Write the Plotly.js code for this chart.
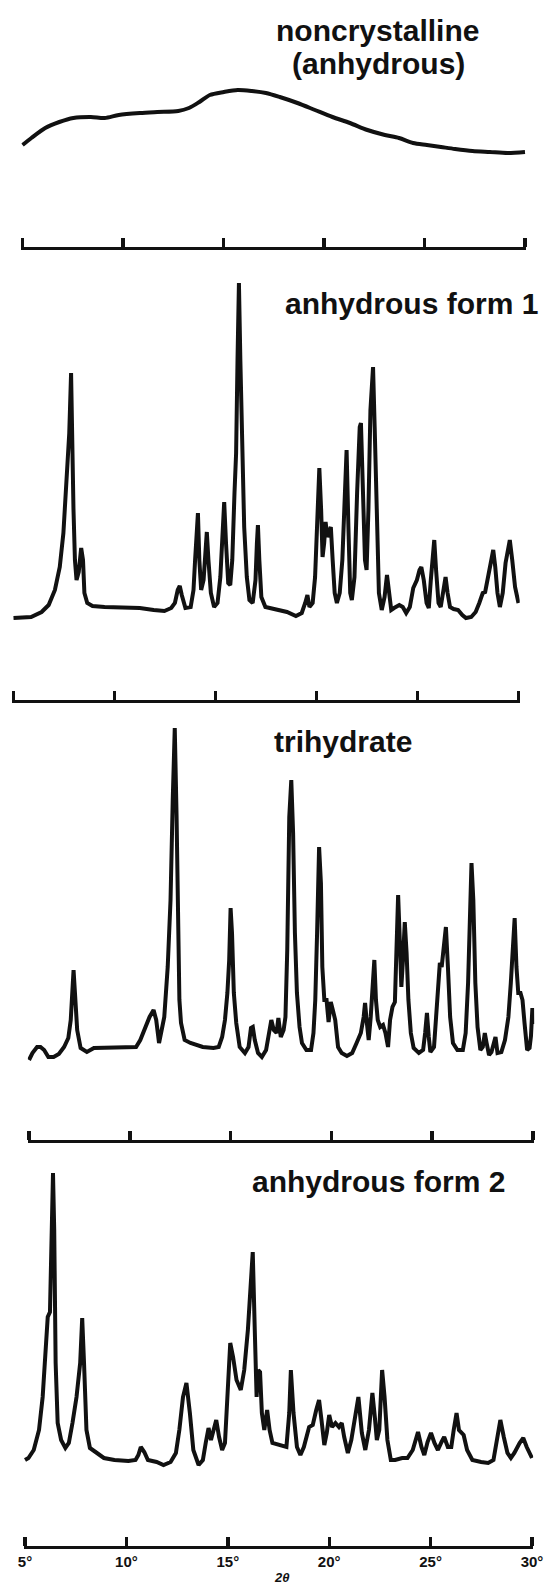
<!DOCTYPE html>
<html>
<head>
<meta charset="utf-8">
<script src="https://cdn.plot.ly/plotly-3.0.1.min.js"></script>
<style>
html, body { margin: 0; padding: 0; background: #ffffff; }
#chart { width: 549px; height: 1590px; }
</style>
</head>
<body>
<div id="chart"></div>
<script>
// ---------------- DATA (2θ in degrees, intensity in arbitrary units) ----------------
const tickVals = [5, 10, 15, 20, 25, 30];
const tickLabels = ['5°', '10°', '15°', '20°', '25°', '30°'];
const axisTitle = '2θ';
const panelNames = ['noncrystalline', '(anhydrous)', 'anhydrous form 1', 'trihydrate', 'anhydrous form 2'];

// noncrystalline (anhydrous)
const twoThetaNoncryst = [5.0,5.44,6.13,6.83,7.53,8.40,9.09,9.79,10.84,11.71,12.75,13.28,13.80,14.32,15.02,15.71,16.41,17.11,17.80,18.68,19.55,20.42,21.29,22.16,23.03,23.73,24.43,25.12,25.82,26.52,27.39,28.26,29.13,30.0];
const intensityNoncryst = [102,109,119,125,129,130,129,132,134,135,136,139,145,152,155,157,156,154,150,144,137,130,124,117,112,109,104,102,100,98,96,95,94,95];

// anhydrous form 1
const twoThetaForm1 = [
5.0,5.35,5.87,6.39,6.74,7.05,7.29,7.47,7.60,7.71,
7.76,7.85,7.90,7.97,8.04,8.12,8.23,8.35,8.44,8.51,
8.65,8.91,9.51,10.38,11.25,11.94,12.47,12.81,12.99,13.13,
13.23,13.33,13.51,13.77,13.91,13.99,14.06,14.13,14.20,14.29,
14.41,14.50,14.57,14.65,14.77,14.93,15.10,15.24,15.35,15.43,
15.52,15.63,15.73,15.83,15.94,16.02,16.09,16.16,16.23,16.32,
16.42,16.55,16.68,16.84,16.98,17.05,17.10,17.17,17.27,17.47,
17.85,18.54,18.98,19.27,19.44,19.55,19.65,19.81,19.93,20.03,
20.14,20.23,20.30,20.38,20.45,20.54,20.62,20.71,20.80,20.90,
21.01,21.15,21.28,21.41,21.49,21.58,21.67,21.75,21.88,22.01,
22.14,22.20,22.29,22.40,22.48,22.57,22.67,22.80,22.88,22.99,
23.09,23.23,23.37,23.49,23.58,23.70,23.84,24.10,24.27,24.44,
24.62,24.79,24.97,25.10,25.19,25.31,25.45,25.56,25.66,25.76,
25.83,25.92,26.04,26.15,26.27,26.39,26.49,26.61,26.79,27.01,
27.22,27.40,27.66,27.88,28.06,28.23,28.35,28.49,28.61,28.75,
28.85,28.96,29.08,29.22,29.36,29.49,29.57,29.69,29.83,30.0];
const intensityForm1 = [
80,80,81,86,93,108,131,165,211,238,
265,325,245,188,138,118,126,150,138,105,
95,92,91,91,90,88,87,90,95,108,
112,103,90,91,108,138,171,185,138,108,
118,145,166,138,105,91,95,121,171,196,
155,115,113,138,205,245,338,415,338,245,
171,121,98,95,118,155,173,138,101,91,
89,86,82,85,95,103,91,95,121,171,
230,188,141,155,176,161,165,171,138,105,
95,105,138,205,248,171,105,98,121,205,
271,275,221,138,128,188,288,331,271,171,
105,88,101,123,105,88,90,93,91,85,
91,110,118,128,131,118,95,90,118,145,
158,128,95,91,108,121,105,91,89,88,
83,80,81,86,95,105,106,121,135,148,
131,105,91,105,135,151,158,138,111,95];

// trihydrate
const twoThetaTrihydrate = [
5.0,5.17,5.40,5.57,5.75,5.96,6.22,6.48,6.74,6.95,
7.07,7.14,7.21,7.28,7.39,7.56,7.87,8.22,9.27,10.31,
10.52,10.75,10.98,11.18,11.31,11.45,11.71,11.88,12.02,12.13,
12.23,12.32,12.39,12.46,12.54,12.72,13.01,13.28,13.62,14.15,
14.41,14.58,14.72,14.84,14.93,15.00,15.07,15.16,15.28,15.45,
15.71,15.89,16.01,16.10,16.20,16.36,16.55,16.76,16.93,17.02,
17.14,17.28,17.37,17.49,17.63,17.72,17.81,17.91,18.01,18.10,
18.19,18.29,18.42,18.54,18.76,18.99,19.11,19.20,19.29,19.39,
19.48,19.55,19.65,19.76,19.86,19.97,20.07,20.19,20.33,20.51,
20.77,21.03,21.25,21.46,21.60,21.67,21.76,21.85,21.95,22.04,
22.13,22.21,22.30,22.42,22.56,22.68,22.81,22.91,23.03,23.15,
23.24,23.31,23.38,23.47,23.55,23.64,23.73,23.82,23.94,24.08,
24.34,24.55,24.65,24.74,24.83,24.91,25.09,25.21,25.30,25.38,
25.47,25.56,25.68,25.78,25.89,26.03,26.25,26.52,26.66,26.78,
26.86,26.95,27.04,27.14,27.25,27.39,27.51,27.61,27.70,27.82,
27.94,28.05,28.14,28.24,28.43,28.61,28.78,28.90,28.99,29.09,
29.18,29.27,29.38,29.48,29.58,29.71,29.83,29.90,29.97,30.0];
const intensityTrihydrate = [
76,83,89,89,86,79,79,82,89,98,
116,143,166,143,106,88,84,88,89,89,
96,108,119,126,116,93,119,169,236,336,
408,319,203,136,113,96,93,91,89,88,
89,99,116,143,176,228,203,143,113,89,
83,89,108,109,96,83,79,86,103,116,
106,103,118,99,106,119,186,319,356,303,
203,143,109,93,86,86,103,136,203,289,
253,169,136,136,114,134,126,116,89,83,
80,83,93,103,119,133,113,96,119,149,
176,136,116,109,111,103,89,116,129,134,
186,241,203,149,176,214,183,136,103,88,
83,86,103,123,99,84,89,119,146,173,
169,183,209,169,119,93,86,86,103,153,
219,273,236,153,109,86,89,103,93,81,
84,93,99,83,84,96,119,153,186,218,
169,143,143,136,113,86,88,100,128,112];

// anhydrous form 2
const twoThetaForm2 = [
5.0,5.17,5.43,5.69,5.87,5.99,6.12,6.23,6.30,6.38,
6.44,6.51,6.61,6.78,6.99,7.16,7.34,7.54,7.72,7.82,
7.91,8.03,8.20,8.55,8.89,9.41,10.10,10.45,10.59,10.71,
10.88,11.06,11.49,11.83,12.18,12.44,12.61,12.79,12.96,13.13,
13.30,13.56,13.77,13.91,14.05,14.17,14.29,14.43,14.57,14.72,
14.86,14.98,15.12,15.26,15.43,15.64,15.81,15.99,16.12,16.23,
16.33,16.42,16.50,16.59,16.68,16.80,16.94,17.06,17.20,17.54,
17.89,18.03,18.11,18.24,18.41,18.58,18.75,19.01,19.19,19.36,
19.50,19.62,19.76,19.88,20.00,20.14,20.31,20.48,20.62,20.74,
20.92,21.09,21.26,21.44,21.61,21.78,21.96,22.13,22.25,22.35,
22.47,22.61,22.73,22.87,23.04,23.25,23.60,23.86,24.12,24.38,
24.55,24.69,24.85,25.02,25.19,25.36,25.54,25.67,25.85,26.02,
26.14,26.28,26.40,26.51,26.63,26.80,27.06,27.49,27.84,28.10,
28.27,28.44,28.61,28.79,28.96,29.13,29.39,29.57,29.74,30.0];
const intensityForm2 = [
83,85,93,113,146,180,226,231,280,370,
313,180,120,103,95,100,120,146,180,225,
180,113,95,90,85,83,82,83,88,96,
91,83,81,78,81,90,113,146,160,130,
93,78,83,100,115,103,113,123,106,93,
100,146,200,186,163,153,173,213,263,291,
213,146,173,171,130,113,133,113,100,98,
96,130,173,130,96,88,96,116,118,133,
143,123,98,110,128,116,120,116,120,106,
90,103,123,146,110,93,113,150,126,103,
113,173,146,103,83,83,85,85,93,111,
96,88,101,110,100,93,101,106,96,96,
113,130,113,111,108,93,83,81,80,83,
103,123,106,90,85,90,100,105,96,85];

// ---------------- LAYOUT ----------------
const W = 549, H = 1590;
const px = v => v / W;
const py = v => 1 - v / H;
const INK = '#111111';
const FONT = 'Liberation Sans, Arial, Helvetica, sans-serif';
const X_RANGE = [4.94, 30.06];   // a hair wider than 5–30 so the end ticks are drawn
const PAD = 1.2;                 // px that the extra range occupies on each side

// per panel: horizontal extent of the 5°–30° axis (px), top of plot area, axis line, zero-intensity line (px)
const panels = [
  { x: twoThetaNoncryst,   y: intensityNoncryst,   left: 22.5, right: 525,   top: 0,    axis: 247,  zero: 247,  shape: 'spline' },
  { x: twoThetaForm1,      y: intensityForm1,      left: 13.5, right: 518.5, top: 258,  axis: 700,  zero: 698,  shape: 'linear' },
  { x: twoThetaTrihydrate, y: intensityTrihydrate, left: 29,   right: 533,   top: 706,  axis: 1140, zero: 1136, shape: 'linear' },
  { x: twoThetaForm2,      y: intensityForm2,      left: 25,   right: 532,   top: 1150, axis: 1546, zero: 1543, shape: 'linear' }
];

const traces = [];
const layout = {
  width: W, height: H,
  margin: { l: 0, r: 0, t: 0, b: 0, pad: 0 },
  paper_bgcolor: '#ffffff', plot_bgcolor: '#ffffff',
  showlegend: false,
  annotations: []
};

panels.forEach((p, i) => {
  const n = i === 0 ? '' : String(i + 1);
  traces.push({
    type: 'scatter', mode: 'lines',
    x: p.x, y: p.y,
    xaxis: 'x' + n, yaxis: 'y' + n,
    line: { color: INK, width: 4, shape: p.shape, smoothing: 0.8 },
    hoverinfo: 'skip'
  });
  layout['xaxis' + n] = {
    domain: [px(p.left - PAD), px(p.right + PAD)],
    range: X_RANGE,
    anchor: 'y' + n,
    showline: true, linewidth: 3.2, linecolor: INK,
    ticks: 'inside', ticklen: 9, tickwidth: 3.4, tickcolor: INK,
    tickmode: 'array', tickvals: tickVals, ticktext: tickLabels,
    showticklabels: i === 3,
    tickfont: { family: FONT, size: 15, color: INK, weight: 'bold' },
    showgrid: false, zeroline: false, fixedrange: true
  };
  layout['yaxis' + n] = {
    domain: [py(p.axis), py(p.top)],
    range: [p.zero - p.axis, p.zero - p.top],
    anchor: 'x' + n,
    visible: false, showgrid: false, zeroline: false, fixedrange: true
  };
});

const labelFont = { family: FONT, size: 30, color: INK, weight: 'bold' };
const labelPos = [
  { x: 377, y: 31 },
  { x: 378, y: 64 },
  { x: 411, y: 303 },
  { x: 343, y: 741 },
  { x: 378, y: 1181 }
];
panelNames.forEach((t, i) => {
  layout.annotations.push({
    xref: 'paper', yref: 'paper',
    x: px(labelPos[i].x), y: py(labelPos[i].y),
    xanchor: 'center', yanchor: 'middle',
    text: t, showarrow: false, font: labelFont
  });
});
layout.annotations.push({
  xref: 'paper', yref: 'paper',
  x: px(281), y: py(1577),
  xanchor: 'center', yanchor: 'middle',
  text: '<b><i>' + axisTitle + '</i></b>', showarrow: false,
  font: { family: FONT, size: 13, color: INK }
});

Plotly.newPlot('chart', traces, layout, { staticPlot: true, displayModeBar: false });
</script>
</body>
</html>
